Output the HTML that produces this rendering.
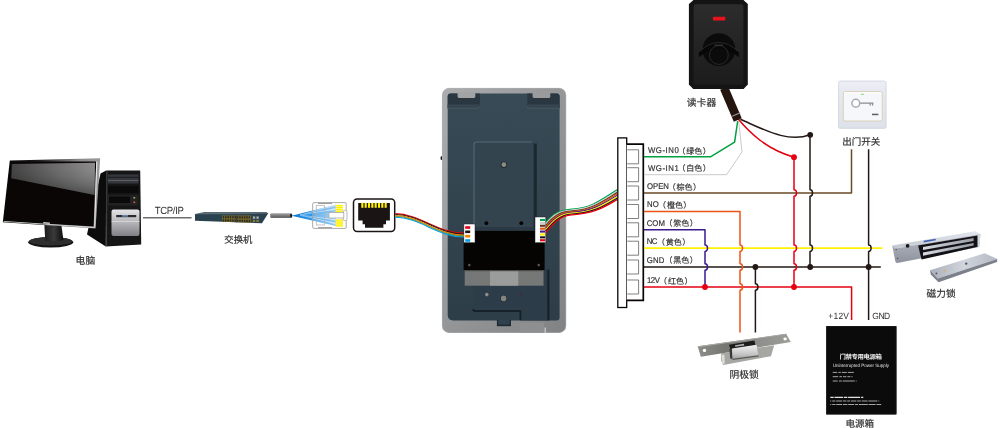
<!DOCTYPE html>
<html lang="zh"><head><meta charset="utf-8"><title>门禁接线示意图</title>
<style>
html,body{margin:0;padding:0;background:#fff}
body{width:1000px;height:428px;overflow:hidden;font-family:"Liberation Sans","Noto Sans CJK SC",sans-serif}
svg{display:block;will-change:transform}
text{font-family:"Liberation Sans","Noto Sans CJK SC",sans-serif;text-rendering:geometricPrecision}
</style></head><body>
<svg width="1000" height="428" viewBox="0 0 1000 428">
<defs>
<linearGradient id="gloss" x1="0" y1="0.2" x2="1" y2="0">
 <stop offset="0" stop-color="#303030"/><stop offset="0.5" stop-color="#5c5c5c"/><stop offset="1" stop-color="#848484"/>
</linearGradient>
<linearGradient id="glossV" x1="0" y1="0" x2="0" y2="1">
 <stop offset="0" stop-color="#fff" stop-opacity="0.08"/><stop offset="1" stop-color="#000" stop-opacity="0.3"/>
</linearGradient>
<linearGradient id="frameG" x1="0" y1="0" x2="1" y2="0">
 <stop offset="0" stop-color="#0a0a0c"/><stop offset="0.35" stop-color="#1c1c1e"/><stop offset="0.8" stop-color="#8c8c8c"/><stop offset="1" stop-color="#9a9a9a"/>
</linearGradient>
<linearGradient id="silverV" x1="0" y1="0" x2="0" y2="1">
 <stop offset="0" stop-color="#e4e4e6"/><stop offset="0.5" stop-color="#b4b4b8"/><stop offset="1" stop-color="#808086"/>
</linearGradient>
<linearGradient id="standG" x1="0" y1="0" x2="1" y2="0">
 <stop offset="0" stop-color="#1a1a1a"/><stop offset="0.5" stop-color="#3a3a3a"/><stop offset="1" stop-color="#0c0c0c"/>
</linearGradient>
<linearGradient id="devEdge" x1="0" y1="0" x2="1" y2="1">
 <stop offset="0" stop-color="#abadaf"/><stop offset="0.5" stop-color="#949698"/><stop offset="1" stop-color="#808284"/>
</linearGradient>
<linearGradient id="devBody" x1="0" y1="0" x2="0" y2="1">
 <stop offset="0" stop-color="#384a55"/><stop offset="1" stop-color="#2d3e49"/>
</linearGradient>
<linearGradient id="steel" x1="0" y1="0" x2="1" y2="0">
 <stop offset="0" stop-color="#8c8c88"/><stop offset="0.3" stop-color="#767671"/><stop offset="0.6" stop-color="#8c8c88"/><stop offset="1" stop-color="#9c9c98"/>
</linearGradient>
<linearGradient id="latch" x1="0" y1="0" x2="0" y2="1">
 <stop offset="0" stop-color="#f2f2f2"/><stop offset="0.6" stop-color="#c8c8c8"/><stop offset="1" stop-color="#9a9a9a"/>
</linearGradient>
<linearGradient id="magTop" x1="0" y1="0" x2="1" y2="0">
 <stop offset="0" stop-color="#c4c8d0"/><stop offset="1" stop-color="#e2e6ee"/>
</linearGradient>
<linearGradient id="magFront" x1="0" y1="0" x2="0" y2="1">
 <stop offset="0" stop-color="#b8bcc6"/><stop offset="1" stop-color="#8e929c"/>
</linearGradient>
<linearGradient id="barG" x1="0" y1="0" x2="1" y2="0">
 <stop offset="0" stop-color="#d8dce2"/><stop offset="0.5" stop-color="#b4b8c0"/><stop offset="1" stop-color="#9a9ea6"/>
</linearGradient>
<linearGradient id="plate" x1="0" y1="0" x2="1" y2="0">
 <stop offset="0" stop-color="#aab0ba"/><stop offset="0.5" stop-color="#d0d4dc"/><stop offset="1" stop-color="#b6bac4"/>
</linearGradient>
<linearGradient id="btnG" x1="0" y1="0" x2="0" y2="1">
 <stop offset="0" stop-color="#eef0f5"/><stop offset="0.2" stop-color="#e6e9f0"/><stop offset="1" stop-color="#dde1e9"/>
</linearGradient>
<linearGradient id="readerG" x1="0" y1="0" x2="0" y2="1">
 <stop offset="0" stop-color="#2c2c2c"/><stop offset="1" stop-color="#1c1c1c"/>
</linearGradient>
<linearGradient id="blueFan" x1="0" y1="0" x2="1" y2="0">
 <stop offset="0" stop-color="#0a78d0"/><stop offset="0.45" stop-color="#2e96e6"/><stop offset="0.75" stop-color="#62b2f0"/><stop offset="1" stop-color="#a4d2f6"/>
</linearGradient>

</defs>
<rect width="1000" height="428" fill="#fff"/>
<g id="computer">
<polygon points="100.5,173.5 106.2,170.5 105.8,246.4 87,234.4" fill="#0c0c0c"/>
<polygon points="106.1,170.5 140.2,170.5 141.2,244.5 105.7,246.4" fill="#161616"/>
<path d="M106.9,171 L106.5,246" stroke="#4c4c4e" stroke-width="0.9" fill="none"/>
<rect x="108" y="174.5" width="30.5" height="9" fill="#34383e"/>
<rect x="108" y="176.8" width="30.5" height="1" fill="#1a1a1a"/>
<rect x="108" y="180" width="30.5" height="0.8" fill="#6a6a6c"/>
<rect x="108" y="186" width="30.5" height="7" fill="#0a0a0a"/>
<rect x="108" y="195" width="30.5" height="10.5" fill="#222224"/>
<rect x="109" y="196.5" width="21" height="6.5" fill="#0a0a0a"/>
<rect x="133.5" y="197" width="1.6" height="1.6" fill="#9ac04a"/>
<rect x="133.5" y="201.5" width="1.6" height="1.6" fill="#e0603a"/>
<rect x="111.5" y="209.5" width="28" height="26.4" rx="2" fill="url(#silverV)"/>
<rect x="116.2" y="215" width="20" height="2.2" fill="#2a2a30"/>
<rect x="122" y="215.3" width="6" height="1.2" fill="#8aa8e0"/>
<rect x="111.5" y="221" width="28" height="0.7" fill="#f4f4f4" opacity="0.7"/>
<ellipse cx="50.7" cy="242.2" rx="22.5" ry="5.2" fill="#121212"/>
<ellipse cx="50.7" cy="241.2" rx="21.6" ry="4.3" fill="#2e2e2e"/>
<path d="M44.4,225 L61.5,226 L63.4,240 Q54,242.6 45.2,240.4 Z" fill="url(#standG)"/>
<polygon points="9.8,160.5 100.2,158.3 95.6,228.6 2.8,222.2" fill="url(#frameG)"/>
<polygon points="10.4,161.6 96.2,161.4 93.6,226.4 3.8,220.9" fill="#0a0606"/>
<polygon points="11.9,163.9 95,162.7 94.6,195 11.3,178.2" fill="url(#gloss)"/>
<polygon points="11.9,163.9 95,162.7 94.6,195 11.3,178.2" fill="url(#glossV)"/>
<polygon points="3.7,220.9 94.6,227.0 94.5,228.0 3.6,221.8" fill="#d8d8d8"/>
<polygon points="96.2,161.4 97.4,161.3 95.2,227.6 94.2,227.2" fill="#e4e4e4"/>
<rect x="43.2" y="222.2" width="6.6" height="1.5" fill="#c8c8c8" transform="rotate(3.8 46 223)"/>
</g>
<text x="75.4 85.6" y="264.4" font-size="9.8" fill="#323030" stroke="#323030" stroke-width="0.19">电脑</text>
<path d="M143,217.7H191.6" stroke="#6e6e6e" stroke-width="1.4" fill="none"/>
<text transform="translate(154.7,213.7) scale(0.92,1)" font-size="10.4" fill="#323030" textLength="31.7" lengthAdjust="spacing">TCP/IP</text>
<g id="switch">
<polygon points="204.3,212.1 266.4,212.1 268.2,213.4 195,214.1" fill="#586870"/>
<polygon points="195,214 268.2,213.3 262,223.2 195,220.7" fill="#2a4250"/>
<polygon points="195,214 268.2,213.3 268,213.9 195,214.7" fill="#40545f"/>
<polygon points="222,215.4 251,215.6 251,222.7 222,221.8" fill="#7a6c2c"/>
<rect x="222.70" y="216.10" width="1.5" height="2.2" fill="#2a2a20"/><rect x="222.70" y="219.20" width="1.5" height="2.2" fill="#2a2a20"/>
<rect x="225.06" y="216.12" width="1.5" height="2.2" fill="#2a2a20"/><rect x="225.06" y="219.26" width="1.5" height="2.2" fill="#2a2a20"/>
<rect x="227.42" y="216.14" width="1.5" height="2.2" fill="#2a2a20"/><rect x="227.42" y="219.32" width="1.5" height="2.2" fill="#2a2a20"/>
<rect x="229.78" y="216.16" width="1.5" height="2.2" fill="#2a2a20"/><rect x="229.78" y="219.38" width="1.5" height="2.2" fill="#2a2a20"/>
<rect x="232.14" y="216.18" width="1.5" height="2.2" fill="#2a2a20"/><rect x="232.14" y="219.44" width="1.5" height="2.2" fill="#2a2a20"/>
<rect x="234.50" y="216.20" width="1.5" height="2.2" fill="#2a2a20"/><rect x="234.50" y="219.50" width="1.5" height="2.2" fill="#2a2a20"/>
<rect x="236.86" y="216.22" width="1.5" height="2.2" fill="#2a2a20"/><rect x="236.86" y="219.56" width="1.5" height="2.2" fill="#2a2a20"/>
<rect x="239.22" y="216.24" width="1.5" height="2.2" fill="#2a2a20"/><rect x="239.22" y="219.62" width="1.5" height="2.2" fill="#2a2a20"/>
<rect x="241.58" y="216.26" width="1.5" height="2.2" fill="#2a2a20"/><rect x="241.58" y="219.68" width="1.5" height="2.2" fill="#2a2a20"/>
<rect x="243.94" y="216.28" width="1.5" height="2.2" fill="#2a2a20"/><rect x="243.94" y="219.74" width="1.5" height="2.2" fill="#2a2a20"/>
<rect x="246.30" y="216.30" width="1.5" height="2.2" fill="#2a2a20"/><rect x="246.30" y="219.80" width="1.5" height="2.2" fill="#2a2a20"/>
<rect x="248.66" y="216.32" width="1.5" height="2.2" fill="#2a2a20"/><rect x="248.66" y="219.86" width="1.5" height="2.2" fill="#2a2a20"/>
<rect x="236.2" y="215.4" width="0.8" height="7" fill="#2a4250"/>
<rect x="252.8" y="216.4" width="2.4" height="2.4" fill="#a8acb0"/><rect x="256.4" y="216.4" width="2.4" height="2.4" fill="#a8acb0"/>
<rect x="252.8" y="219.8" width="2.4" height="2.2" fill="#8a7a30"/><rect x="256.4" y="219.8" width="2.4" height="2.2" fill="#8a7a30"/>
</g>
<text x="224.3 233.7 243.1" y="242.8" font-size="9.4" fill="#323030" stroke="#323030" stroke-width="0.19">交换机</text>
<rect x="270.3" y="213.5" width="21" height="4.4" rx="1" fill="#6c6c6c"/>
<rect x="270.5" y="214.2" width="20.4" height="1.2" fill="#9a9a9a"/>
<ellipse cx="291.2" cy="215.7" rx="1.1" ry="2.1" fill="#1a1a1a"/>
<polygon points="291.6,215.7 336,204.6 336,226 " fill="url(#blueFan)"/>
<path d="M300,215.2 L335.6,205.2" stroke="#eaf4fc" stroke-width="0.7" fill="none" opacity="0.85"/>
<path d="M300,215.2 L335.6,207.1" stroke="#3a9ae8" stroke-width="0.7" fill="none" opacity="0.85"/>
<path d="M300,215.2 L335.6,209" stroke="#eaf4fc" stroke-width="0.7" fill="none" opacity="0.85"/>
<path d="M300,215.2 L335.6,210.9" stroke="#3a9ae8" stroke-width="0.7" fill="none" opacity="0.85"/>
<path d="M300,215.2 L335.6,219.7" stroke="#eaf4fc" stroke-width="0.7" fill="none" opacity="0.85"/>
<path d="M300,215.2 L335.6,221.6" stroke="#3a9ae8" stroke-width="0.7" fill="none" opacity="0.85"/>
<path d="M300,215.2 L335.6,223.5" stroke="#eaf4fc" stroke-width="0.7" fill="none" opacity="0.85"/>
<path d="M300,215.2 L335.6,225.4" stroke="#3a9ae8" stroke-width="0.7" fill="none" opacity="0.85"/>
<g id="plug">
<rect x="312.7" y="202.6" width="33.5" height="25.8" rx="1.2" fill="#fff" fill-opacity="0.22" stroke="#a0a0a0" stroke-width="0.9"/>
<rect x="316.3" y="205.4" width="8.2" height="19.6" fill="none" stroke="#b4b4b4" stroke-width="0.8"/>
<rect x="318" y="202.9" width="14" height="1.1" fill="#9c9c9c"/><rect x="318" y="227.1" width="14" height="1.1" fill="#9c9c9c"/>
<rect x="335.6" y="204.9" width="7.4" height="1.5" fill="#fff000"/>
<rect x="335.6" y="206.8" width="7.4" height="1.5" fill="#fff000"/>
<rect x="335.6" y="208.7" width="7.4" height="1.5" fill="#fff000"/>
<rect x="335.6" y="210.6" width="7.4" height="1.5" fill="#fff000"/>
<rect x="335.6" y="219.4" width="7.4" height="1.5" fill="#fff000"/>
<rect x="335.6" y="221.3" width="7.4" height="1.5" fill="#fff000"/>
<rect x="335.6" y="223.2" width="7.4" height="1.5" fill="#fff000"/>
<rect x="335.6" y="225.1" width="7.4" height="1.5" fill="#fff000"/>
<rect x="343" y="210.3" width="4" height="10.3" rx="1.6" fill="#fff" stroke="#a8a8a8" stroke-width="0.8"/>
<rect x="329" y="212.4" width="14.8" height="5.6" fill="#fff" stroke="#a8a8a8" stroke-width="0.8"/>
</g>
<g id="socket">
<rect x="353.5" y="199" width="41.2" height="32.4" rx="3.6" fill="#fff" stroke="#1a1414" stroke-width="1.5"/>
<path d="M358.2,202.9H389.9V220.6H386V224.2H383.4V227.8H365V224.2H362.6V220.6H358.2Z" fill="#1a1414"/>
<rect x="361.30" y="202.9" width="2.1" height="4.9" fill="#fff000"/>
<rect x="364.63" y="202.9" width="2.1" height="4.9" fill="#fff000"/>
<rect x="367.96" y="202.9" width="2.1" height="4.9" fill="#fff000"/>
<rect x="371.29" y="202.9" width="2.1" height="4.9" fill="#fff000"/>
<rect x="374.62" y="202.9" width="2.1" height="4.9" fill="#fff000"/>
<rect x="377.95" y="202.9" width="2.1" height="4.9" fill="#fff000"/>
<rect x="381.28" y="202.9" width="2.1" height="4.9" fill="#fff000"/>
<rect x="384.61" y="202.9" width="2.1" height="4.9" fill="#fff000"/>
</g>
<g id="device">
<rect x="440.6" y="156.2" width="2.2" height="3.8" rx="1" fill="#1a1a1a"/>
<rect x="442" y="87.9" width="124.1" height="245" rx="7.2" fill="url(#devEdge)"/>
<rect x="442.4" y="88.3" width="123.3" height="244.2" rx="6.8" fill="none" stroke="#b4b6b8" stroke-opacity="0.6" stroke-width="0.8"/>
<path d="M447.7,96.5 q0,-3 3,-3 H556.6 q3,0 3,3 V317.4 q0,3 -3,3 H453 q-5.3,0 -5.3,-5.3Z" fill="url(#devBody)"/>
<path d="M447.7,96.5 q0,-3 3,-3 H479.9 V106.3 q0,2 -2,2 H447.7Z" fill="#2a3740"/>
<path d="M527.3,93.5 H556.6 q3,0 3,3 V108.3 H529.3 q-2,0 -2,-2Z" fill="#2a3740"/>
<rect x="457.6" y="92" width="17.7" height="5.9" rx="1.3" fill="#a2a4a6"/>
<rect x="532.6" y="92" width="17.7" height="5.9" rx="1.3" fill="#999b9d"/>
<path d="M447.7,104.2 H479.9 V106.3 q0,2 -2,2 H447.7Z" fill="#35444f"/>
<path d="M527.3,104.2 H559.6 V108.3 H529.3 q-2,0 -2,-2Z" fill="#35444f"/>
<path d="M447.7,108.3 H478 q1.9,0 1.9,-2" stroke="#50606c" stroke-width="0.7" fill="none"/>
<path d="M527.3,106.3 q0,2 2,2 H559.6" stroke="#50606c" stroke-width="0.7" fill="none"/>
<rect x="473.4" y="141.5" width="61.3" height="92" rx="3" fill="#33444f"/>
<path d="M474,232 V144.5 q0,-2.5 2.5,-2.5 H532" stroke="#56687a" stroke-width="1.1" fill="none"/>
<rect x="533.6" y="143.5" width="3.2" height="87.4" fill="#1c2830"/>
<circle cx="503.9" cy="164.7" r="3.3" fill="#1e2a32"/><circle cx="503.9" cy="164.7" r="2.4" fill="#8c8c86"/>
<rect x="474" y="227" width="60" height="4" fill="#2a3944"/>
<circle cx="486.4" cy="223.2" r="1.9" fill="#050505"/><circle cx="521.3" cy="223.2" r="1.9" fill="#050505"/>
<path d="M544.6,269 H546.2 q1.2,0 1.2,1.2 V320.4 H520.4 V311 H475.1 q-2,0 -2,-2 V285.7 H544.6Z" fill="#2c3d49"/>
<path d="M473.1,309 q0,2 2,2 H520.4 V320" stroke="#16212a" stroke-width="1.8" fill="none"/>
<rect x="547.2" y="269.6" width="2.3" height="50.8" fill="#17222a"/>
<rect x="463.6" y="230.9" width="81" height="39.2" fill="#060303"/>
<circle cx="469.3" cy="265.1" r="1.3" fill="#555"/><circle cx="538.7" cy="265.1" r="1.3" fill="#555"/>
<rect x="464.7" y="270" width="78.8" height="15.7" fill="#767878"/>
<rect x="490" y="270" width="28.3" height="15.7" fill="#9a9c9c"/>
<rect x="464.7" y="270" width="78.8" height="1.2" fill="#4a4c4c"/>
<circle cx="486.8" cy="294.6" r="1.8" fill="#8c8c88"/><circle cx="503.6" cy="298.4" r="3.5" fill="#1e2a32"/><circle cx="503.6" cy="298.4" r="2.8" fill="#84847f"/><circle cx="521.5" cy="294.2" r="1.3" fill="#3a3034"/>
<rect x="496.9" y="320" width="14.1" height="6.2" fill="#1e2a32"/><rect x="498.2" y="320" width="11.5" height="4.6" fill="#30414d"/>
<rect x="519.4" y="322.5" width="24.6" height="10" fill="#8d8f91"/>
<rect x="544.7" y="327.6" width="0.9" height="5.2" fill="#eeeeee"/>
<rect x="463.9" y="224" width="11.1" height="18.7" fill="#fff" stroke="#222" stroke-width="0.5"/>
<rect x="465.2" y="226.2" width="5" height="2.6" fill="#e60012"/>
<rect x="465.2" y="230.5" width="5" height="2.6" fill="#1a1414"/>
<rect x="465.2" y="234.9" width="5" height="2.6" fill="#f08300"/>
<rect x="465.2" y="239.2" width="5" height="2.6" fill="#00a0e9"/>
<rect x="535" y="217" width="10.8" height="25.7" fill="#fff" stroke="#222" stroke-width="0.5"/>
<rect x="540" y="218.9" width="5" height="2.1" fill="#00a651"/>
<rect x="540" y="221.8" width="5" height="2.1" fill="#c9c9c9"/>
<rect x="540" y="224.7" width="5" height="2.1" fill="#5a3a1a"/>
<rect x="540" y="227.6" width="5" height="2.1" fill="#ea5514"/>
<rect x="540" y="230.5" width="5" height="2.1" fill="#4a1a8a"/>
<rect x="540" y="233.4" width="5" height="2.1" fill="#fff100"/>
<rect x="540" y="236.3" width="5" height="2.1" fill="#1a1414"/>
<rect x="540" y="239.2" width="5" height="2.1" fill="#e60012"/>
</g>
<path d="M395.4,213.6 C420,214.0 438,233.2 464,233.0" stroke="#e60012" stroke-width="1.1" fill="none"/>
<path d="M395.4,214.5 C420,214.9 438,234.2 464,234.0" stroke="#2a1a14" stroke-width="1.1" fill="none"/>
<path d="M395.4,215.5 C420,215.9 438,235.3 464,235.1" stroke="#f08300" stroke-width="1.1" fill="none"/>
<path d="M395.4,216.4 C420,216.8 438,236.3 464,236.1" stroke="#8a9a30" stroke-width="1.1" fill="none"/>
<path d="M395.4,217.2 C420,217.6 438,237.2 464,237.0" stroke="#00a0e9" stroke-width="1.1" fill="none"/>
<path d="M545.8,222.6 C553,213.6 560,209.8 572,209.2 C592,208.0 602,199.1 617.4,189.6" stroke="#00a651" stroke-width="1.25" fill="none"/>
<path d="M545.8,224.0 C553,215.0 560,210.6 572,210.0 C592,208.8 602,200.5 617.4,191.0" stroke="#d4d4d4" stroke-width="1.25" fill="none"/>
<path d="M545.8,225.5 C553,216.5 560,211.4 572,210.8 C592,209.6 602,201.9 617.4,192.4" stroke="#5a3a1a" stroke-width="1.25" fill="none"/>
<path d="M545.8,226.9 C553,217.9 560,212.2 572,211.6 C592,210.4 602,203.3 617.4,193.8" stroke="#ea5514" stroke-width="1.25" fill="none"/>
<path d="M545.8,228.3 C553,219.3 560,213.0 572,212.4 C592,211.2 602,204.7 617.4,195.2" stroke="#4a1a8a" stroke-width="1.25" fill="none"/>
<path d="M545.8,229.7 C553,220.7 560,213.8 572,213.2 C592,212.0 602,206.1 617.4,196.6" stroke="#fff100" stroke-width="1.25" fill="none"/>
<path d="M545.8,231.2 C553,222.2 560,214.6 572,214.0 C592,212.8 602,207.5 617.4,198.0" stroke="#1a1414" stroke-width="1.25" fill="none"/>
<path d="M545.8,232.6 C553,223.6 560,215.4 572,214.8 C592,213.6 602,208.9 617.4,199.4" stroke="#e60012" stroke-width="1.25" fill="none"/>
<g id="terminal">
<rect x="617.8" y="137.9" width="8.9" height="169.6" fill="#fff" stroke="#0a0505" stroke-width="1.3"/>
<path d="M626.7,144.2H643.3V300.3H626.7" fill="#fff" stroke="#0a0505" stroke-width="1.7"/>
<path d="M627.3,149.8H638.6V163.8H627.3" fill="none" stroke="#4a4a4a" stroke-width="0.7"/>
<path d="M627.3,167.7H638.6V181.7H627.3" fill="none" stroke="#4a4a4a" stroke-width="0.7"/>
<path d="M627.3,186.0H638.6V200.0H627.3" fill="none" stroke="#4a4a4a" stroke-width="0.7"/>
<path d="M627.3,204.5H638.6V218.5H627.3" fill="none" stroke="#4a4a4a" stroke-width="0.7"/>
<path d="M627.3,222.8H638.6V236.8H627.3" fill="none" stroke="#4a4a4a" stroke-width="0.7"/>
<path d="M627.3,241.2H638.6V255.2H627.3" fill="none" stroke="#4a4a4a" stroke-width="0.7"/>
<path d="M627.3,260.0H638.6V274.0H627.3" fill="none" stroke="#4a4a4a" stroke-width="0.7"/>
<path d="M627.3,280.0H638.6V294.0H627.3" fill="none" stroke="#4a4a4a" stroke-width="0.7"/>
</g>
<g fill="none" stroke-linejoin="round">
<path d="M644,174.7H726.6L742,152L738.8,122" stroke="#c4c4c4" stroke-width="0.9"/>
<path d="M644,156.8H710.5L734.6,142.2L737.7,121" stroke="#00a040" stroke-width="1.5"/>
<path d="M644,193H851.5V149.2" stroke="#6a4a28" stroke-width="1.5"/>
<path d="M644,248.2H882.3" stroke="#fff100" stroke-width="1.8"/>
<path d="M644,267H880.8" stroke="#231815" stroke-width="1.5"/>
<path d="M644,287H851.6V320" stroke="#e60012" stroke-width="1.5"/>
<path d="M644,229.8H705V245.0a2.5 3.2 0 0 1 0 6.4V263.8a2.5 3.2 0 0 1 0 6.4V287" stroke="#3a1a8c" stroke-width="1.5"/>
<path d="M644,211.5H740V245.0a2.5 3.2 0 0 1 0 6.4V263.8a2.5 3.2 0 0 1 0 6.4V283.8a2.5 3.2 0 0 1 0 6.4V332.6" stroke="#ea5514" stroke-width="1.5"/>
<path d="M755.4,267V283.8a2.5 3.2 0 0 1 0 6.4V332.6" stroke="#231815" stroke-width="1.5"/>
<path d="M738,118.8C750,133 766,149 794,157.2V189.8a2.5 3.2 0 0 1 0 6.4V245.0a2.5 3.2 0 0 1 0 6.4V263.8a2.5 3.2 0 0 1 0 6.4V287" stroke="#e60012" stroke-width="1.5"/>
<path d="M740.4,119.3C765,130 788,143 810,134.8V189.8a2.5 3.2 0 0 1 0 6.4V245.0a2.5 3.2 0 0 1 0 6.4V267" stroke="#231815" stroke-width="1.5"/>
<path d="M868.6,149.2V245.0a2.5 3.2 0 0 1 0 6.4V320" stroke="#231815" stroke-width="1.5"/>
</g>
<circle cx="705" cy="287" r="2.9" fill="#e60012"/>
<circle cx="794" cy="287" r="2.9" fill="#e60012"/>
<circle cx="794" cy="157.2" r="2.9" fill="#e60012"/>
<circle cx="755.4" cy="267" r="2.9" fill="#231815"/>
<circle cx="810.2" cy="267" r="2.9" fill="#231815"/>
<circle cx="868.6" cy="267" r="2.9" fill="#231815"/>
<circle cx="810.2" cy="134.8" r="2.9" fill="#231815"/>
<text transform="translate(647.9,153.2) scale(0.93,1)" font-size="8.4" fill="#323030" stroke="#323030" stroke-width="0.18" textLength="33.3" lengthAdjust="spacing">WG-IN0</text>
<text x="677.4 686.3 694.3 702.7" y="153.9" font-size="8" fill="#323030" stroke="#323030" stroke-width="0.16">（绿色）</text>
<text transform="translate(647.9,170.7) scale(0.93,1)" font-size="8.4" fill="#323030" stroke="#323030" stroke-width="0.18" textLength="33.3" lengthAdjust="spacing">WG-IN1</text>
<text x="677.4 686.3 694.3 702.7" y="171.4" font-size="8" fill="#323030" stroke="#323030" stroke-width="0.16">（白色）</text>
<text transform="translate(647.1,189.2) scale(0.93,1)" font-size="8.4" fill="#323030" stroke="#323030" stroke-width="0.18" textLength="23.5" lengthAdjust="spacing">OPEN</text>
<text x="667.7 676.6 684.6 693" y="189.9" font-size="8" fill="#323030" stroke="#323030" stroke-width="0.16">（棕色）</text>
<text transform="translate(647.1,207.1) scale(0.93,1)" font-size="8.4" fill="#323030" stroke="#323030" stroke-width="0.18" textLength="12.5" lengthAdjust="spacing">NO</text>
<text x="658 666.9 674.9 683.3" y="207.8" font-size="8" fill="#323030" stroke="#323030" stroke-width="0.16">（橙色）</text>
<text transform="translate(646.7,225.7) scale(0.93,1)" font-size="8.4" fill="#323030" stroke="#323030" stroke-width="0.18" textLength="19.6" lengthAdjust="spacing">COM</text>
<text x="664.4 673.3 681.3 689.7" y="226.4" font-size="8" fill="#323030" stroke="#323030" stroke-width="0.16">（紫色）</text>
<text transform="translate(646.7,243.9) scale(0.93,1)" font-size="8.4" fill="#323030" stroke="#323030" stroke-width="0.18" textLength="11.4" lengthAdjust="spacing">NC</text>
<text x="656.9 665.8 673.8 682.2" y="244.6" font-size="8" fill="#323030" stroke="#323030" stroke-width="0.16">（黄色）</text>
<text transform="translate(646.7,262.6) scale(0.93,1)" font-size="8.4" fill="#323030" stroke="#323030" stroke-width="0.18" textLength="19.1" lengthAdjust="spacing">GND</text>
<text x="664.4 673.3 681.3 689.7" y="263.3" font-size="8" fill="#323030" stroke="#323030" stroke-width="0.16">（黑色）</text>
<text transform="translate(646.9,283.1) scale(0.93,1)" font-size="8.4" fill="#323030" stroke="#323030" stroke-width="0.18" textLength="14.0" lengthAdjust="spacing">12V</text>
<text x="659.1 668 676 684.4" y="283.8" font-size="8" fill="#323030" stroke="#323030" stroke-width="0.16">（红色）</text>
<g id="reader">
<path d="M724.1,88 L737.8,120" stroke="#24160f" stroke-width="8.6" fill="none"/>
<path d="M732.2,116.2 L740.2,112.8" stroke="#9a9a9a" stroke-width="1.1" fill="none"/>
<path d="M693.5,0 H743.5 L747.8,4 V84.6 L743.6,89 H693.2 L688.9,84.6 V4Z" fill="#141414"/>
<rect x="693.6" y="4.3" width="49.8" height="80.5" rx="2.4" fill="url(#readerG)"/>
<rect x="712.9" y="16.8" width="12.4" height="3.6" rx="0.6" fill="#e8121c"/>
<circle cx="718.9" cy="49.6" r="16.4" fill="#0b0b0b"/>
<path d="M699,52 Q718.9,33.5 738.7,52 L738.9,57.2 Q718.9,39.2 698.8,57.2Z" fill="#070707"/>
<path d="M699.6,51.4 Q718.9,33.6 738.2,51.4" stroke="#333" stroke-width="0.7" fill="none"/>
<circle cx="718.9" cy="55" r="9.4" fill="none" stroke="#2a2a2a" stroke-width="1"/>
<rect x="714.4" y="44.6" width="9" height="1" fill="#3c3c3c"/>
</g>
<text x="686.8 696.6 706.4" y="105.9" font-size="9.8" fill="#323030" stroke="#323030" stroke-width="0.19">读卡器</text>
<g id="exitbtn">
<rect x="838.2" y="80.7" width="48.2" height="48" rx="1.8" fill="url(#btnG)"/>
<rect x="838.6" y="81.1" width="47.4" height="47.2" rx="1.6" fill="none" stroke="#d2d6df" stroke-width="0.8"/>
<rect x="843.3" y="91.6" width="39" height="29.4" rx="2" fill="#f5f7fa" stroke="#d9ccb0" stroke-width="0.9"/>
<rect x="844.2" y="92.4" width="37.2" height="1" fill="#ffffff"/>
<rect x="860.8" y="93.8" width="3" height="0.9" fill="#7ec870"/>
<circle cx="855.8" cy="103.2" r="3.9" fill="#fff" stroke="#a6aab2" stroke-width="1.5"/>
<path d="M860.2,103.2H873.4M870.2,103.2v2.3M872.6,103.2v2.3" stroke="#8a8e96" stroke-width="1.3" fill="none"/>
<rect x="872" y="113.7" width="6.4" height="1.5" fill="#5a5e68"/>
</g>
<text x="842.2 851.7 861.2 870.7" y="144.5" font-size="9.5" fill="#323030" stroke="#323030" stroke-width="0.19">出门开关</text>
<g id="maglock">
<polygon points="892.2,245.6 974.9,231.3 980.5,234.1 895.7,248.6" fill="url(#magTop)"/>
<path d="M892.2,245.6 L895.7,248.6 L980.5,234.1 L979.2,247 L897.4,263 Q895.6,263 895.2,261Z" fill="url(#magFront)"/>
<polygon points="918.1,245.6 977.7,235.4 977.7,246.8 921.6,259.6" fill="#121216"/>
<polygon points="923,246.9 973.6,238.1 973.6,241.0 923,250.0" fill="url(#barG)"/>
<polygon points="923,252.4 973.6,242.9 973.6,245.6 923,255.8" fill="url(#barG)"/>
<polygon points="977.7,235.4 980.5,234.1 979.2,247 977.7,246.8" fill="#d4d8e0"/>
<circle cx="907.6" cy="245.8" r="1.9" fill="#17171b"/>
<circle cx="896.2" cy="249.6" r="0.8" fill="#5a5a60"/><circle cx="897.6" cy="258.4" r="0.8" fill="#5a5a60"/>
<polygon points="923.7,240.7 935.7,238.7 935.8,240.3 923.8,242.4" fill="#4060b0"/>
<polygon points="930,270.2 984.7,253.3 997.3,258.9 937.8,278.6" fill="url(#plate)"/>
<polygon points="930,270.2 937.8,278.6 997.3,258.9 997,261.9 938.5,282.3 930.8,274.4" fill="#7c808a"/>
<circle cx="966.2" cy="263.6" r="1.2" fill="#50545c"/><circle cx="944.6" cy="271" r="1.4" fill="#c8b890"/><circle cx="936.4" cy="273.4" r="0.9" fill="#4a4a50"/>
</g>
<text x="926.6 936.3 946" y="296.9" font-size="9.7" fill="#323030" stroke="#323030" stroke-width="0.19">磁力锁</text>
<g id="cathode">
<polygon points="721.1,353.6 774.2,345.2 771,356.2 723.2,365 721.1,360.3" fill="#a6a6a2"/>
<polygon points="697.7,346.3 786.1,333.8 790.8,342.1 700.8,356.7" fill="url(#steel)"/>
<polygon points="697.7,346.3 786.1,333.8 786.5,334.6 698,347.2" fill="#aaaaa6"/>
<circle cx="704.5" cy="350.4" r="1.7" fill="#fff"/><ellipse cx="785.1" cy="339" rx="1.7" ry="1.4" fill="#fff"/>
<polygon points="728.9,344.7 754.4,340.6 755.6,345.4 730.5,349.6" fill="#1c1c1c"/>
<polygon points="735,345.2 744,343.8 744.2,345.4 735.2,346.8" fill="#b0b0b0"/>
<polygon points="729.4,349 732.2,348.4 732.8,359.6 730.2,358.2" fill="#3a3a38"/>
<polygon points="732,348.4 756.5,344.7 758.6,356.2 732.6,359.8" fill="url(#latch)"/>
<polygon points="732.6,358.8 758.5,355.2 758.6,356.4 732.6,360" fill="#5a5a58"/>
<polygon points="721.6,355 724.4,354.5 724.8,363.6 722.4,364.2" fill="#dcdcd8"/>
</g>
<text x="729.4 739.2 749" y="378.2" font-size="9.8" fill="#323030" stroke="#323030" stroke-width="0.19">阴极锁</text>
<g id="power">
<rect x="826.1" y="326.1" width="70.4" height="88.4" rx="0.8" fill="#0b0b0b"/>
<rect x="826.5" y="326.5" width="69.6" height="87.6" fill="none" stroke="#262626" stroke-width="0.5"/>
<text x="839.4 845.42 851.44 857.46 863.48 869.5 875.52" y="358.9" font-size="6.4" font-weight="bold" fill="#f4f4f4">门禁专用电源箱</text>
<text transform="translate(832.7,367.3) scale(0.95,1)" font-size="4.7" fill="#e4e4e4" textLength="59.2" lengthAdjust="spacing">Uninterrupted Power Supply</text>
<g fill="none" stroke="#a4a4a4" stroke-width="1">
<path d="M832.7,372.4H854.2" stroke-dasharray="4.5 1.2 2.4 1 5 1 6 1"/>
<path d="M832.7,376.7H852.6" stroke-dasharray="5.5 1.2 2.6 1 3.4 1 3 1"/>
<path d="M832.7,381H856.6" stroke-dasharray="5 1.2 3 0.8 12 1"/>
<path d="M830.3,397.4H863.3" stroke="#e0e0e0" stroke-width="1.3" stroke-dasharray="3.4 0.8 8.6 0.8 3.4 0.8 12 1"/>
<path d="M830.3,401H879.2" stroke-dasharray="1 0.9 3.2 0.8 6 0.8 3.4 0.8 3 0.8 5.4 0.8 3.6 0.8 6 0.8 9 1"/>
<path d="M830.3,404.5H881.2" stroke-dasharray="1 0.9 3.2 0.8 6 0.8 4.4 0.8 6 0.8 3 0.8 9 0.8 7 0.8 6 1"/>
</g>
</g>
<text transform="translate(828.3,319.1) scale(0.94,1)" font-size="9" fill="#323030" textLength="22.0" lengthAdjust="spacing">+12V</text>
<text transform="translate(872.3,319.1) scale(0.94,1)" font-size="9" fill="#323030" textLength="19.0" lengthAdjust="spacing">GND</text>
<text x="845.6 855.1 864.6" y="427" font-size="9.5" fill="#323030" stroke="#323030" stroke-width="0.19">电源箱</text>
</svg>
</body></html>
